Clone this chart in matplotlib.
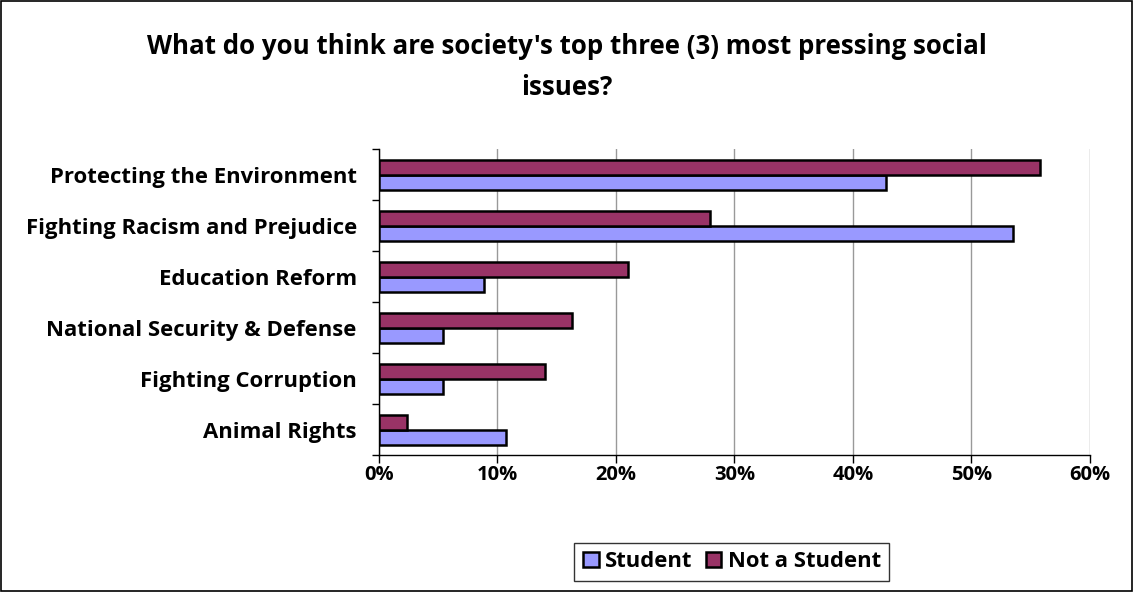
import numpy as np
import matplotlib.pyplot as plt
from matplotlib.ticker import FixedLocator, PercentFormatter

categories = ["Protecting the Environment", "Fighting Racism and Prejudice",
              "Education Reform", "National Security & Defense",
              "Fighting Corruption", "Animal Rights"]
student = [42.8, 53.5, 8.9, 5.4, 5.4, 10.7]
not_student = [55.8, 27.9, 21.0, 16.3, 14.0, 2.4]

plt.rcParams['font.family'] = ['Open Sans', 'DejaVu Sans']
plt.rcParams['font.weight'] = 'bold'

fig = plt.figure(figsize=(11.33, 5.92), dpi=100)
ax = fig.add_axes([0.3345, 0.2314, 0.6275, 0.5166])

y = np.arange(len(categories))
h = 0.294
ax.barh(y + h / 2, student, height=h, color='#9999FF', edgecolor='black',
        linewidth=1.8, label='Student', zorder=3)
ax.barh(y - h / 2, not_student, height=h, color='#993366', edgecolor='black',
        linewidth=1.8, label='Not a Student', zorder=3)

ax.set_xlim(0, 60)
ax.set_ylim(len(categories) - 0.5, -0.5)
ax.set_xticks(np.arange(0, 61, 10))
ax.xaxis.set_major_formatter(PercentFormatter(decimals=0))
ax.set_yticks(y)
ax.set_yticklabels(categories, fontweight='bold')
ax.yaxis.set_minor_locator(FixedLocator(np.arange(-0.5, len(categories), 1)))
ax.tick_params(axis='y', which='major', length=0, pad=16, labelsize=15.9)
ax.tick_params(axis='y', which='minor', length=5, width=1, color='black')
ax.tick_params(axis='x', length=6, width=1, labelsize=14.5, pad=1)
ax.grid(axis='x', color='#999999', linewidth=1, zorder=0)
for s in ['top', 'right']:
    ax.spines[s].set_visible(False)
for s in ['left', 'bottom']:
    ax.spines[s].set_linewidth(1)
    ax.spines[s].set_color('black')

fig.text(0.5, 0.945, "What do you think are society's top three (3) most pressing social\nissues?",
         ha='center', va='top', fontsize=18.6, fontweight='bold', linespacing=1.7)

fig.legend(loc='center', bbox_to_anchor=(0.646, 0.051), ncol=2,
           prop={'weight': 'bold', 'size': 15.8},
           frameon=True, fancybox=False, edgecolor='black', handlelength=0.7,
           handleheight=0.7, handletextpad=0.3, columnspacing=0.6,
           borderpad=0.4, borderaxespad=0)

fig.patches.append(plt.Rectangle((0.001, 0.001), 0.998, 0.998, transform=fig.transFigure,
                                 fill=False, edgecolor='black', linewidth=1.2))

plt.savefig('out.png', dpi=100)
